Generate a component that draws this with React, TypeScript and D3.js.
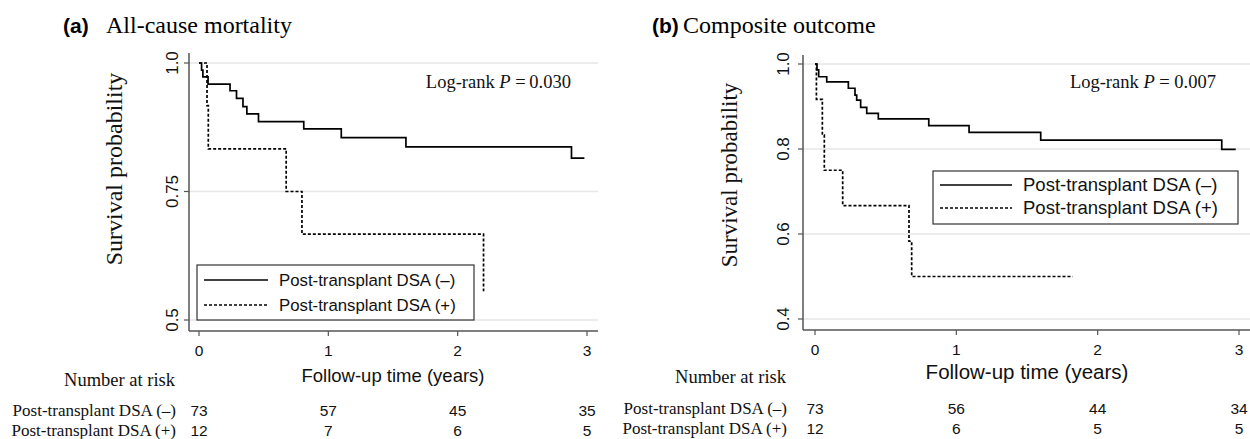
import React from 'react';
import * as d3 from 'd3';

const timeTicks = [0, 1, 2, 3];
const yTicksA = [0.5, 0.75, 1.0];
const yTickLabelsA = ['0.5', '0.75', '1.0'];
const yTicksB = [0.4, 0.6, 0.8, 1.0];
const yTickLabelsB = ['0.4', '0.6', '0.8', '1.0'];

// (a) all-cause mortality
const mortNegTime = [0, 0.02, 0.03, 0.07, 0.24, 0.29, 0.34, 0.37, 0.46, 0.81, 1.10, 1.60, 2.88];
const mortNegSurv = [1, 0.986, 0.973, 0.959, 0.946, 0.931, 0.915, 0.901, 0.886, 0.872, 0.855, 0.837, 0.815];
const mortNegEnd = 2.98;
const mortPosTime = [0, 0.062, 0.072, 0.674, 0.796, 2.2];
const mortPosSurv = [1, 0.917, 0.833, 0.75, 0.667, 0.556];
const mortPosEnd = 2.2;

// (b) composite outcome
const compNegTime = [0, 0.014, 0.026, 0.083, 0.236, 0.283, 0.295, 0.323, 0.366, 0.448, 0.805, 1.09, 1.597, 2.878];
const compNegSurv = [1, 0.986, 0.970, 0.958, 0.943, 0.927, 0.915, 0.898, 0.884, 0.871, 0.855, 0.839, 0.821, 0.799];
const compNegEnd = 2.977;
const compPosTime = [0, 0.01, 0.052, 0.066, 0.196, 0.665, 0.684];
const compPosSurv = [1, 0.917, 0.833, 0.75, 0.667, 0.583, 0.5];
const compPosEnd = 1.824;

const groupLabels = ['Post-transplant DSA (\u2013)', 'Post-transplant DSA (+)'];
const riskMortNeg = [73, 57, 45, 35];
const riskMortPos = [12, 7, 6, 5];
const riskCompNeg = [73, 56, 44, 34];
const riskCompPos = [12, 6, 5, 5];

const SERIF = '"Liberation Serif", "Times New Roman", serif';
const SANS = '"Liberation Sans", Arial, sans-serif';
const AXIS = '#555';
const GRID = '#e6e6e6';

const stepPath = (times, surv, end, x, y) => {
  const pts = times.map((t, i) => [t, surv[i]]);
  if (end > times[times.length - 1]) pts.push([end, surv[surv.length - 1]]);
  return d3.line().x(d => x(d[0])).y(d => y(d[1])).curve(d3.curveStepAfter)(pts);
};

const Panel = (p) => {
  const x = d3.scaleLinear().domain([0, 3]).range(p.xRange);
  const y = d3.scaleLinear().domain(p.yDomain).range(p.yRange);
  const [fx0, fx1] = p.frameX;
  const [fy0, fy1] = p.frameY;
  return (
    <g>
      {/* title */}
      <text x={p.tagX} y={33} fontFamily={SANS} fontWeight="bold" fontSize={21}>{p.tag}</text>
      <text x={p.titleX} y={33} fontFamily={SERIF} fontSize={24}>{p.title}</text>

      {/* grid */}
      {p.yTicks.map(v => (
        <line key={v} x1={fx0} x2={fx1} y1={y(v)} y2={y(v)} stroke={GRID} strokeWidth={1.5} />
      ))}

      {/* axes */}
      <line x1={fx0} x2={fx0} y1={fy0} y2={fy1} stroke={AXIS} strokeWidth={1.5} />
      <line x1={fx0} x2={fx1} y1={fy1} y2={fy1} stroke={AXIS} strokeWidth={1.5} />
      {p.yTicks.map((v, i) => (
        <g key={v}>
          <line x1={fx0 - 5} x2={fx0} y1={y(v)} y2={y(v)} stroke={AXIS} strokeWidth={1.2} />
          <text transform={`translate(${fx0 - p.yLabOff},${y(v)}) rotate(-90)`} textAnchor="middle"
            fontFamily={SANS} fontSize={17} fill="#111">{p.yTickLabels[i]}</text>
        </g>
      ))}
      {timeTicks.map(t => (
        <g key={t}>
          <line x1={x(t)} x2={x(t)} y1={fy1} y2={fy1 + 5} stroke={AXIS} strokeWidth={1.2} />
          <text x={x(t)} y={p.xTickY} textAnchor="middle" fontFamily={SANS} fontSize={15.5} fill="#111">{t}</text>
        </g>
      ))}
      <text x={(x(0) + x(3)) / 2} y={p.xTitleY} textAnchor="middle" fontFamily={SANS}
        fontSize={p.xTitleSize} fill="#111">Follow-up time (years)</text>
      <text transform={`translate(${p.yTitle[0]},${p.yTitle[1]}) rotate(-90)`} textAnchor="middle"
        fontFamily={SERIF} fontSize={p.yTitle[2]} fill="#111">Survival probability</text>

      {/* curves */}
      <path d={stepPath(p.negTime, p.negSurv, p.negEnd, x, y)} fill="none" stroke="#000" strokeWidth={1.7} />
      <path d={stepPath(p.posTime, p.posSurv, p.posEnd, x, y)} fill="none" stroke="#000" strokeWidth={1.7}
        strokeDasharray="3,2" />

      {/* log-rank */}
      <text x={p.logX} y={88} textAnchor="end" fontFamily={SERIF} fontSize={18.5} fill="#111">
        Log-rank <tspan fontStyle="italic">P</tspan>{p.logText}
      </text>

      {/* legend */}
      <rect x={p.leg[0]} y={p.leg[1]} width={p.leg[2]} height={p.leg[3]} fill="#fff" stroke="#333" strokeWidth={1.2} />
      {groupLabels.map((lab, i) => {
        const ly = p.leg[1] + p.legRow[i];
        return (
          <g key={lab}>
            <line x1={p.leg[0] + 7} x2={p.leg[0] + p.legLine} y1={ly} y2={ly} stroke="#000"
              strokeWidth={1.5} strokeDasharray={i === 1 ? '3,2' : undefined} />
            <text x={p.leg[0] + p.legLine + 11} y={ly + 6} fontFamily={SANS} fontSize={p.legSize} fill="#111">{lab}</text>
          </g>
        );
      })}

      {/* number at risk */}
      <text x={p.riskLabelX} y={p.riskHeadY} textAnchor="end" fontFamily={SERIF} fontSize={18.5} fill="#111">Number at risk</text>
      {groupLabels.map((lab, i) => (
        <g key={lab}>
          <text x={p.riskLabelX + 1} y={p.riskRowY[i]} textAnchor="end" fontFamily={SERIF} fontSize={17} fill="#111">{lab}</text>
          {(i === 0 ? p.riskNeg : p.riskPos).map((n, j) => (
            <text key={j} x={x(timeTicks[j])} y={p.riskRowY[i]} textAnchor="middle" fontFamily={SANS} fontSize={15.5} fill="#111">{n}</text>
          ))}
        </g>
      ))}
    </g>
  );
};

export default function App() {
  return (
    <svg width={1250} height={439} style={{ position: 'absolute', left: 0, top: 0, background: '#fff' }}>
      <Panel tag="(a)" title="All-cause mortality" tagX={63} titleX={106}
        xRange={[199, 587]} yDomain={[0.5, 1]} yRange={[320, 63]}
        frameX={[189, 598]} frameY={[53, 331]}
        yTicks={yTicksA} yTickLabels={yTickLabelsA} yLabOff={11}
        xTickY={356} xTitleY={382} xTitleSize={18.5} yTitle={[122, 169, 24]}
        negTime={mortNegTime} negSurv={mortNegSurv} negEnd={mortNegEnd}
        posTime={mortPosTime} posSurv={mortPosSurv} posEnd={mortPosEnd}
        logX={571} logText={' =\u20090.030'}
        leg={[197, 265, 277, 55]} legRow={[15, 40]} legLine={71} legSize={16.8}
        riskLabelX={175} riskHeadY={386} riskRowY={[416, 436]}
        riskNeg={riskMortNeg} riskPos={riskMortPos} />
      <Panel tag="(b)" title="Composite outcome" tagX={652} titleX={683}
        xRange={[815, 1239]} yDomain={[0.4, 1]} yRange={[319, 64]}
        frameX={[803, 1250]} frameY={[55, 330]}
        yTicks={yTicksB} yTickLabels={yTickLabelsB} yLabOff={14}
        xTickY={355} xTitleY={379} xTitleSize={20.5} yTitle={[737, 175, 23]}
        negTime={compNegTime} negSurv={compNegSurv} negEnd={compNegEnd}
        posTime={compPosTime} posSurv={compPosSurv} posEnd={compPosEnd}
        logX={1216} logText={' = 0.007'}
        leg={[933, 171, 305, 53]} legRow={[14, 37]} legLine={79} legSize={18.5}
        riskLabelX={786} riskHeadY={383} riskRowY={[414, 434]}
        riskNeg={riskCompNeg} riskPos={riskCompPos} />
    </svg>
  );
}
